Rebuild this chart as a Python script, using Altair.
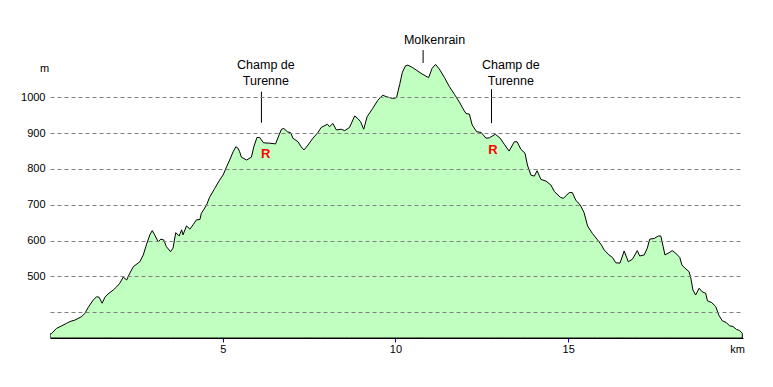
import altair as alt
import pandas as pd

# Elevation profile (distance in km, elevation in m)
dist_km = [0.00, 0.05, 0.19, 0.34, 0.48, 0.58, 0.72, 0.92, 1.01, 1.11, 1.25, 1.35, 1.42, 1.51, 1.59,
           1.68, 1.83, 1.93, 2.02, 2.12, 2.22, 2.31, 2.41, 2.60, 2.70, 2.79, 2.89, 2.96, 3.03, 3.13,
           3.21, 3.29, 3.37, 3.49, 3.56, 3.64, 3.74, 3.81, 3.85, 3.95, 4.05, 4.14, 4.24, 4.34, 4.38,
           4.53, 4.62, 4.77, 4.91, 5.01, 5.11, 5.20, 5.30, 5.38, 5.44, 5.49, 5.54, 5.69, 5.83, 5.90,
           5.99, 6.07, 6.18, 6.36, 6.53, 6.63, 6.70, 6.77, 6.87, 6.97, 7.03, 7.18, 7.27, 7.35, 7.47,
           7.61, 7.75, 7.85, 8.03, 8.09, 8.19, 8.29, 8.43, 8.53, 8.67, 8.82, 8.91, 8.99, 9.08, 9.18,
           9.34, 9.49, 9.63, 9.73, 9.92, 10.03, 10.12, 10.20, 10.29, 10.36, 10.50, 10.74, 10.96, 11.06,
           11.16, 11.27, 11.42, 11.56, 11.71, 11.85, 11.95, 12.04, 12.14, 12.22, 12.35, 12.48, 12.62,
           12.72, 12.89, 13.03, 13.15, 13.29, 13.44, 13.52, 13.63, 13.75, 13.82, 13.92, 14.02, 14.10,
           14.21, 14.36, 14.50, 14.60, 14.77, 14.86, 15.03, 15.12, 15.22, 15.35, 15.46, 15.56, 15.70,
           15.85, 15.96, 16.04, 16.18, 16.28, 16.38, 16.50, 16.62, 16.74, 16.86, 17.00, 17.07, 17.20,
           17.29, 17.36, 17.49, 17.61, 17.68, 17.75, 17.80, 17.92, 18.01, 18.11, 18.23, 18.29, 18.38,
           18.50, 18.55, 18.61, 18.69, 18.79, 18.88, 18.98, 19.03, 19.15, 19.27, 19.36, 19.46, 19.58,
           19.67, 19.77, 19.87, 19.96, 20.04]
elev_m = [339, 341, 355, 362, 369, 374, 378, 388, 397, 414, 434, 443, 442, 425, 442,
          451, 462, 471, 481, 498, 490, 509, 527, 541, 560, 588, 616, 628, 616, 597,
          604, 602, 583, 569, 579, 622, 613, 630, 616, 641, 632, 644, 658, 659, 676,
          699, 721, 746, 769, 783, 806, 825, 848, 862, 858, 848, 833, 825, 833, 862,
          888, 888, 873, 872, 870, 895, 911, 913, 904, 901, 886, 876, 862, 853, 867,
          886, 901, 916, 925, 918, 927, 909, 911, 907, 916, 948, 941, 932, 911, 946,
          969, 992, 1006, 1002, 997, 999, 1035, 1070, 1088, 1090, 1083, 1067, 1055, 1081,
          1092, 1079, 1055, 1030, 1008, 987, 969, 955, 953, 923, 904, 902, 886,
          887, 897, 886, 869, 850, 876, 876, 855, 844, 811, 783, 780, 795,
          771, 766, 755, 737, 721, 718, 734, 734, 713, 699, 678, 641, 620,
          602, 588, 574, 560, 553, 538, 537, 571, 541, 548, 572, 557, 560,
          579, 604, 606, 613, 613, 583, 560, 566, 572, 565, 553, 532, 523,
          513, 495, 462, 448, 467, 457, 453, 432, 427, 416, 392, 376, 371,
          362, 360, 352, 349, 341]

x_ticks = [5, 10, 15]
y_grid = [400, 500, 600, 700, 800, 900, 1000]
x_domain = [0, 20.06]
y_domain = [328, 1216]

# Annotations (data coordinates)
label_x = [6.25, 6.25, 11.13, 13.34, 13.34]
label_y = [1090, 1045, 1160, 1090, 1045]
label_text = ["Champ de", "Turenne", "Molkenrain", "Champ de", "Turenne"]
pointer_x = [6.12, 10.80, 12.78]
pointer_top = [1016, 1132, 1023]
pointer_bottom = [929, 1096, 928]
r_x = [6.24, 12.82]
r_y = [842, 852]

FONT = "Liberation Sans"

profile = pd.DataFrame({"km": dist_km, "m": elev_m})
labels = pd.DataFrame({"km": label_x, "m": label_y, "t": label_text})
pointers = pd.DataFrame({"km": pointer_x, "top": pointer_top, "bot": pointer_bottom})
rs = pd.DataFrame({"km": r_x, "m": r_y, "t": ["R", "R"]})

xs = alt.Scale(domain=x_domain, nice=False, zero=False)
ys = alt.Scale(domain=y_domain, nice=False, zero=False)

area = alt.Chart(profile).mark_area(
    color="#c0ffc0", stroke="black", strokeWidth=1, clip=True
).encode(
    x=alt.X("km:Q", scale=xs, axis=alt.Axis(
        values=x_ticks, title="km", grid=False, domainColor="black", domainWidth=1,
        tickColor="#0000ff", tickSize=4, tickOffset=0, labelColor="black", labelFont=FONT,
        labelFontSize=11, labelPadding=1, titleFont=FONT, titleFontSize=11,
        titleFontWeight="normal", titleColor="black", titleX=687, titleY=11,
        titleAlign="center", titleBaseline="middle")),
    y=alt.Y("m:Q", scale=ys, axis=alt.Axis(
        values=y_grid, title="m", domain=False, ticks=False, grid=True, format="d",
        gridColor="#808080", gridDash=[4, 3], gridWidth=1, zindex=1,
        labelExpr="datum.value == 400 ? '' : datum.label", labelColor="black",
        labelFont=FONT, labelFontSize=11, labelPadding=5, titleFont=FONT,
        titleFontSize=11, titleFontWeight="normal", titleColor="black", titleAngle=0,
        titleX=-6, titleY=48, titleAlign="center", titleBaseline="middle")),
    y2=alt.datum(328),
)

pointer_rules = alt.Chart(pointers).mark_rule(color="black", strokeWidth=1).encode(
    x=alt.X("km:Q", scale=xs), y=alt.Y("top:Q", scale=ys), y2="bot:Q"
)

label_text_mark = alt.Chart(labels).mark_text(
    font=FONT, fontSize=12.5, color="black", align="center", baseline="middle"
).encode(x=alt.X("km:Q", scale=xs), y=alt.Y("m:Q", scale=ys), text="t:N")

r_mark = alt.Chart(rs).mark_text(
    font=FONT, fontSize=13, fontWeight="bold", color="#ff0000", align="center", baseline="middle"
).encode(x=alt.X("km:Q", scale=xs), y=alt.Y("m:Q", scale=ys), text="t:N")

chart = alt.layer(area, pointer_rules, label_text_mark, r_mark).properties(
    width=693, height=318,
    autosize=alt.AutoSizeParams(type="none"),
    padding={"left": 42, "top": 12, "right": 20, "bottom": 35},
    background="white",
).configure_view(stroke=None)

chart.save("out.html", embed_options={"renderer": "svg", "actions": False})
